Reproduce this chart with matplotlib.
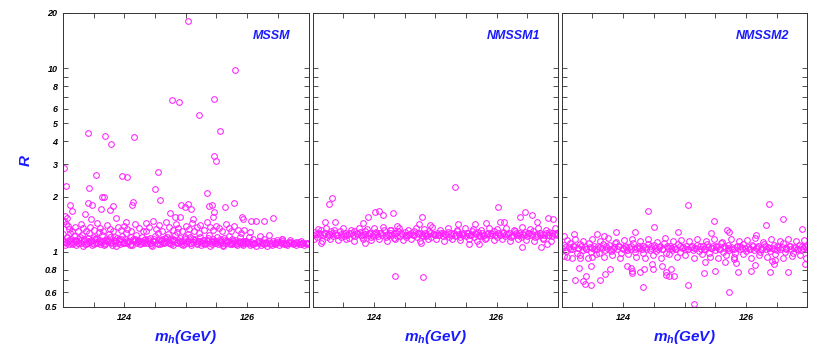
import matplotlib
matplotlib.use("Agg")
import matplotlib.pyplot as plt
from matplotlib.ticker import FixedLocator, FixedFormatter, NullLocator

plt.rcParams['font.family'] = ['Liberation Sans', 'DejaVu Sans']
plt.rcParams['mathtext.fontset'] = 'custom'
plt.rcParams['mathtext.it'] = 'Liberation Sans:bold:italic'
plt.rcParams['mathtext.rm'] = 'Liberation Sans:bold:italic'
plt.rcParams['mathtext.bf'] = 'Liberation Sans:bold:italic'

# ---------------- MSSM ----------------
mssm_band_m = [123.02,123.05,123.07,123.10,123.13,123.15,123.18,123.21,123.23,123.26,123.29,123.31,123.34,123.37,123.40,123.42,123.45,123.48,123.50,123.53,123.56,123.58,123.61,123.64,123.66,123.69,123.72,123.74,123.77,123.80,123.83,123.85,123.88,123.91,123.93,123.96,123.99,124.01,124.04,124.07,124.10,124.12,124.15,124.18,124.20,124.23,124.26,124.29,124.31,124.34,124.37,124.39,124.42,124.45,124.47,124.50,124.53,124.55,124.58,124.61,124.64,124.66,124.69,124.72,124.74,124.77,124.80,124.82,124.85,124.88,124.91,124.93,124.96,124.99,125.01,125.04,125.07,125.09,125.12,125.15,125.18,125.20,125.23,125.26,125.28,125.31,125.34,125.36,125.39,125.42,125.45,125.47,125.50,125.53,125.55,125.58,125.61,125.64,125.66,125.69,125.72,125.75,125.77,125.80,125.83,125.86,125.88,125.91,125.94,125.97,125.99,
               123.00,123.04,123.08,123.12,123.16,123.19,123.24,123.28,123.32,123.35,123.39,123.43,123.46,123.51,123.54,123.59,123.62,123.67,123.70,123.75,123.79,123.84,123.87,123.92,123.97,124.02,124.06,124.09,124.14,124.19,124.22,124.27,124.32,124.36,124.41,124.44,124.49,124.54,124.59,124.63,124.67,124.71,124.76,124.81,124.86,124.90,124.95,124.98,125.03,125.08,125.11,125.16,125.21,125.25,125.30,125.33,125.38,125.43,125.46,125.51,125.56,125.60,125.63,125.68,125.71,125.76,125.81,125.84,125.89,125.93,125.96,
               123.03,123.09,123.14,123.20,123.25,123.30,123.36,123.41,123.47,123.52,123.57,123.63,123.68,123.73,123.78,123.84,123.89,123.94,124.00,124.05,124.11,124.16,124.21,124.27,124.32,124.38,124.43,124.48,124.54,124.59,124.64,124.70,124.75,124.80,124.86,124.91,124.97,125.02,125.07,125.13,125.18,125.23,125.29,125.34,125.40,125.45,125.50,125.56,125.61,125.66,125.72,125.77,125.82,125.88,125.93,125.98,
               126.01,126.04,126.06,126.09,126.12,126.14,126.17,126.20,126.22,126.25,126.28,126.30,126.33,126.36,126.38,126.41,126.44,126.46,126.49,126.52,126.55,126.57,126.60,126.63,126.65,126.68,126.71,126.74,126.76,126.79,126.82,126.85,126.87,126.90,126.93,126.96,126.99,
               126.02,126.08,126.13,126.19,126.24,126.31,126.37,126.42,126.47,126.53,126.59,126.64,126.69,126.75,126.80,126.86,126.91,126.97,
               126.03,126.10,126.21,126.27,126.35,126.48,126.57,126.70,126.88]
mssm_band_r = [1.15,1.12,1.20,1.10,1.17,1.13,1.22,1.09,1.15,1.18,1.11,1.24,1.14,1.10,1.19,1.13,1.16,1.09,1.21,1.12,1.17,1.14,1.10,1.23,1.15,1.11,1.18,1.13,1.20,1.09,1.16,1.12,1.19,1.14,1.10,1.22,1.13,1.17,1.11,1.15,1.20,1.09,1.14,1.18,1.12,1.16,1.10,1.21,1.13,1.17,1.11,1.15,1.19,1.08,1.14,1.22,1.12,1.16,1.10,1.18,1.13,1.15,1.20,1.11,1.17,1.14,1.09,1.23,1.12,1.16,1.19,1.10,1.14,1.18,1.12,1.15,1.21,1.09,1.13,1.17,1.11,1.15,1.20,1.12,1.16,1.10,1.14,1.19,1.08,1.13,1.17,1.11,1.15,1.10,1.18,1.13,1.09,1.16,1.12,1.14,1.10,1.17,1.11,1.13,1.09,1.15,1.12,1.10,1.14,1.11,1.13,
               1.25,1.09,1.14,1.27,1.11,1.16,1.12,1.21,1.08,1.17,1.12,1.26,1.14,1.10,1.19,1.28,1.13,1.09,1.16,1.25,1.13,1.20,1.08,1.17,1.11,1.26,1.13,1.09,1.18,1.24,1.14,1.11,1.16,1.29,1.12,1.09,1.17,1.26,1.14,1.11,1.19,1.25,1.10,1.16,1.28,1.13,1.09,1.20,1.25,1.11,1.18,1.14,1.27,1.09,1.16,1.12,1.24,1.10,1.15,1.21,1.12,1.08,1.19,1.15,1.22,1.10,1.16,1.12,1.20,1.09,1.15,
               1.13,1.16,1.10,1.14,1.12,1.16,1.10,1.15,1.12,1.17,1.11,1.14,1.10,1.16,1.12,1.15,1.11,1.17,1.12,1.15,1.10,1.16,1.13,1.15,1.11,1.17,1.12,1.14,1.10,1.16,1.12,1.15,1.11,1.17,1.13,1.15,1.10,1.14,1.12,1.16,1.10,1.14,1.12,1.16,1.11,1.14,1.12,1.15,1.11,1.14,1.12,1.15,1.10,1.13,1.11,1.14,
               1.11,1.09,1.13,1.10,1.12,1.08,1.14,1.11,1.09,1.13,1.10,1.12,1.08,1.15,1.11,1.09,1.12,1.10,1.13,1.09,1.11,1.14,1.10,1.12,1.09,1.11,1.13,1.10,1.12,1.09,1.11,1.13,1.10,1.12,1.09,1.11,1.12,
               1.13,1.10,1.12,1.14,1.11,1.13,1.10,1.14,1.11,1.13,1.12,1.10,1.13,1.11,1.13,1.10,1.12,1.10,
               1.20,1.17,1.22,1.18,1.24,1.16,1.18,1.16,1.15]
mssm_mid_m = [123.02,123.05,123.08,123.06,123.10,123.15,123.20,123.25,123.30,123.33,123.38,123.44,123.50,123.55,123.60,123.65,123.71,123.76,123.82,123.90,123.95,124.00,124.05,124.11,124.17,124.24,124.30,124.35,124.40,124.46,124.52,124.57,124.62,124.68,124.73,124.79,124.84,124.88,124.94,125.00,125.05,125.10,125.14,125.19,125.24,125.29,125.35,125.40,125.44,125.49,125.54,125.59,125.65,125.70,125.74,125.79,125.85,125.90,125.95,126.05]
mssm_mid_r = [1.48,1.42,1.38,1.52,1.33,1.30,1.36,1.29,1.41,1.34,1.30,1.37,1.32,1.43,1.35,1.30,1.40,1.33,1.29,1.36,1.31,1.39,1.33,1.30,1.42,1.35,1.30,1.44,1.37,1.48,1.33,1.40,1.30,1.45,1.36,1.31,1.42,1.35,1.30,1.38,1.33,1.44,1.30,1.36,1.40,1.32,1.45,1.37,1.31,1.39,1.34,1.30,1.42,1.35,1.29,1.38,1.32,1.27,1.31,1.28]
mssm_out_m = [125.03,125.80,124.77,124.89,125.46,125.21,125.55,123.40,123.69,123.78,124.15,125.46,125.49,123.02,123.53,123.96,124.05,124.55,
              123.05,123.43,124.50,125.35,123.63,123.67,124.58,123.40,123.12,123.47,124.14,124.12,123.82,123.62,123.76,124.93,125.03,124.98,125.08,125.38,125.43,125.46,125.45,125.64,125.78,123.14,123.87,124.74,124.83,125.11,124.90,124.03,123.36,123.46,125.92,125.94,126.07,126.15,126.27,126.42,126.57,123.04]
mssm_out_r = [18.0,9.75,6.69,6.52,6.78,5.54,4.53,4.44,4.27,3.85,4.22,3.34,3.13,2.85,2.62,2.60,2.56,2.72,
              2.28,2.22,2.19,2.08,2.00,2.00,1.91,1.85,1.80,1.80,1.87,1.79,1.78,1.72,1.68,1.80,1.82,1.75,1.70,1.77,1.80,1.65,1.54,1.75,1.84,1.67,1.53,1.63,1.54,1.50,1.55,1.45,1.60,1.50,1.54,1.50,1.47,1.47,1.47,1.53,1.18,1.56]

# ---------------- NMSSM1 ----------------
n1_band_m = [123.01,123.04,123.07,123.11,123.14,123.17,123.20,123.24,123.27,123.30,123.34,123.37,123.40,123.44,123.47,123.50,123.53,123.57,123.60,123.63,123.67,123.70,123.73,123.77,123.80,123.83,123.86,123.90,123.93,123.96,124.00,124.03,124.06,124.10,124.13,124.16,124.20,124.23,124.26,124.30,124.33,124.36,124.40,124.43,124.46,124.50,124.53,124.56,124.60,124.63,124.66,124.70,124.73,124.76,124.80,124.83,124.86,124.90,124.93,124.96,125.00,125.03,125.06,125.10,125.13,125.16,125.20,125.23,125.26,125.30,125.33,125.36,125.40,125.43,125.46,125.50,125.53,125.56,125.60,125.63,125.66,125.70,125.73,125.76,125.80,125.83,125.86,125.90,125.93,125.96,126.00,126.03,126.06,126.10,126.13,126.16,126.20,126.23,126.26,126.30,126.33,126.36,126.40,126.43,126.46,126.50,126.53,126.56,126.60,126.63,126.66,126.70,126.73,126.76,126.80,126.83,126.86,126.90,126.93,126.96,126.99,
             123.02,123.09,123.16,123.22,123.29,123.35,123.42,123.49,123.55,123.62,123.68,123.75,123.82,123.88,123.95,124.01,124.08,124.15,124.21,124.28,124.35,124.41,124.48,124.55,124.61,124.68,124.75,124.81,124.88,124.95,125.01,125.08,125.15,125.21,125.28,125.35,125.41,125.48,125.55,125.61,125.68,125.75,125.81,125.88,125.95,126.01,126.08,126.15,126.21,126.28,126.35,126.41,126.48,126.55,126.61,126.68,126.75,126.81,126.88,126.95,
             123.05,123.12,123.19,123.26,123.32,123.39,123.46,123.52,123.59,123.66,123.72,123.79,123.85,123.92,123.99,124.05,124.12,124.19,124.25,124.32,124.38,124.45,124.52,124.58,124.65,124.72,124.78,124.85,124.92,124.98,125.05,125.12,125.18,125.25,125.32,125.38,125.45,125.52,125.58,125.65,125.71,125.78,125.85,125.91,125.98,126.05,126.11,126.18,126.25,126.31,126.38,126.45,126.51,126.58,126.65,126.71,126.78,126.85,126.91,126.98]
n1_band_r = [1.24,1.28,1.21,1.26,1.31,1.23,1.27,1.20,1.25,1.29,1.22,1.26,1.24,1.30,1.21,1.25,1.27,1.23,1.19,1.26,1.29,1.22,1.25,1.28,1.21,1.24,1.30,1.23,1.26,1.20,1.25,1.28,1.22,1.26,1.24,1.31,1.21,1.25,1.27,1.23,1.19,1.26,1.29,1.22,1.25,1.28,1.21,1.24,1.27,1.23,1.30,1.20,1.25,1.27,1.22,1.26,1.24,1.29,1.21,1.25,1.23,1.27,1.24,1.26,1.22,1.25,1.28,1.21,1.24,1.26,1.23,1.29,1.20,1.25,1.27,1.22,1.26,1.24,1.30,1.21,1.25,1.28,1.22,1.26,1.24,1.19,1.27,1.23,1.25,1.29,1.21,1.26,1.24,1.28,1.22,1.25,1.27,1.20,1.24,1.29,1.23,1.26,1.21,1.25,1.28,1.22,1.26,1.24,1.30,1.21,1.25,1.27,1.23,1.19,1.26,1.24,1.28,1.22,1.25,1.27,1.23,
             1.17,1.33,1.15,1.35,1.18,1.32,1.16,1.34,1.17,1.31,1.14,1.35,1.18,1.33,1.16,1.34,1.17,1.36,1.15,1.32,1.18,1.35,1.16,1.31,1.17,1.34,1.15,1.33,1.18,1.36,1.17,1.32,1.15,1.34,1.18,1.31,1.16,1.35,1.17,1.33,1.15,1.32,1.18,1.35,1.16,1.33,1.17,1.34,1.15,1.31,1.18,1.36,1.16,1.33,1.14,1.35,1.17,1.32,1.15,1.34,
             1.25,1.23,1.26,1.24,1.27,1.23,1.25,1.22,1.26,1.24,1.27,1.23,1.25,1.26,1.22,1.25,1.27,1.23,1.24,1.26,1.22,1.27,1.24,1.25,1.23,1.26,1.24,1.22,1.27,1.25,1.23,1.26,1.24,1.27,1.22,1.25,1.24,1.26,1.23,1.27,1.24,1.22,1.25,1.26,1.24,1.23,1.27,1.25,1.22,1.26,1.24,1.23,1.27,1.25,1.22,1.26,1.24,1.23,1.26,1.25]
n1_out_m = [125.32,123.32,123.27,126.03,124.09,124.02,124.31,124.15,123.91,124.78,126.47,126.38,126.57,126.84,126.92,126.65,124.35,124.80,126.41,126.72,126.82,125.55,125.71,123.86,124.76,123.14,124.26,123.21,123.36,123.83,124.38,124.74,124.92,125.37,125.82,126.05,126.12,125.65]
n1_out_r = [2.24,1.96,1.83,1.75,1.66,1.65,1.62,1.59,1.54,1.55,1.64,1.55,1.59,1.52,1.51,1.46,0.74,0.73,1.06,1.06,1.10,1.10,1.10,1.11,1.11,1.11,1.32,1.45,1.45,1.43,1.39,1.42,1.40,1.41,1.44,1.45,1.45,1.41]

# ---------------- NMSSM2 ----------------
n2_band_m = [123.01,123.04,123.07,123.11,123.14,123.17,123.20,123.24,123.27,123.30,123.34,123.37,123.40,123.44,123.47,123.50,123.53,123.57,123.60,123.63,123.67,123.70,123.73,123.77,123.80,123.83,123.86,123.90,123.93,123.96,124.00,124.03,124.06,124.10,124.13,124.16,124.20,124.23,124.26,124.30,124.33,124.36,124.40,124.43,124.46,124.50,124.53,124.56,124.60,124.63,124.66,124.70,124.73,124.76,124.80,124.83,124.86,124.90,124.93,124.96,125.00,125.03,125.06,125.10,125.13,125.16,125.20,125.23,125.26,125.30,125.33,125.36,125.40,125.43,125.46,125.50,125.53,125.56,125.60,125.63,125.66,125.70,125.73,125.76,125.80,125.83,125.86,125.90,125.93,125.96,126.00,126.03,126.06,126.10,126.13,126.16,126.20,126.23,126.26,126.30,126.33,126.36,126.40,126.43,126.46,126.50,126.53,126.56,126.60,126.63,126.66,126.70,126.73,126.76,126.80,126.83,126.86,126.90,126.93,126.96,126.99,
             123.03,123.09,123.16,123.22,123.29,123.35,123.42,123.49,123.55,123.62,123.68,123.75,123.82,123.88,123.95,124.01,124.08,124.15,124.21,124.28,124.35,124.41,124.48,124.55,124.61,124.68,124.75,124.81,124.88,124.95,125.01,125.08,125.15,125.21,125.28,125.35,125.41,125.48,125.55,125.61,125.68,125.75,125.81,125.88,125.95,126.01,126.08,126.15,126.21,126.28,126.35,126.41,126.48,126.55,126.61,126.68,126.75,126.81,126.88,126.95,
             123.06,123.13,123.19,123.26,123.32,123.39,123.46,123.52,123.59,123.66,123.72,123.79,123.85,123.92,123.99,124.05,124.12,124.19,124.25,124.32,124.38,124.45,124.52,124.58,124.65,124.72,124.78,124.85,124.92,124.98,125.05,125.12,125.18,125.25,125.32,125.38,125.45,125.52,125.58,125.65,125.71,125.78,125.85,125.91,125.98,126.05,126.11,126.18,126.25,126.31,126.38,126.45,126.51,126.58,126.65,126.71,126.78,126.85,126.91,126.98]
n2_band_r = [1.05,1.09,1.01,1.06,1.11,1.03,1.07,0.99,1.05,1.10,1.02,1.06,1.04,1.11,1.00,1.05,1.08,1.03,0.98,1.06,1.10,1.02,1.05,1.09,1.01,1.04,1.11,1.03,1.07,0.99,1.05,1.08,1.02,1.06,1.04,1.12,1.00,1.05,1.08,1.03,0.98,1.06,1.10,1.02,1.05,1.09,1.01,1.04,1.08,1.03,1.11,0.99,1.05,1.08,1.02,1.06,1.04,1.10,1.00,1.05,1.03,1.08,1.04,1.06,1.02,1.05,1.09,1.01,1.04,1.07,1.03,1.10,0.99,1.05,1.08,1.02,1.06,1.04,1.11,1.00,1.05,1.09,1.02,1.06,1.04,0.98,1.08,1.03,1.05,1.10,1.01,1.06,1.04,1.09,1.02,1.05,1.08,1.00,1.04,1.10,1.03,1.06,1.01,1.05,1.09,1.02,1.06,1.04,1.11,1.00,1.05,1.08,1.03,0.98,1.06,1.04,1.09,1.02,1.05,1.08,1.03,
             0.95,1.16,0.93,1.18,0.96,1.14,0.92,1.17,0.97,1.15,0.94,1.19,0.96,1.13,0.93,1.16,0.97,1.18,0.94,1.14,0.92,1.17,0.96,1.13,0.93,1.19,0.97,1.15,0.94,1.16,0.96,1.14,0.93,1.18,0.97,1.15,0.94,1.17,0.92,1.13,0.96,1.18,0.94,1.14,0.97,1.16,0.93,1.19,0.96,1.13,0.94,1.17,0.97,1.15,0.93,1.18,0.95,1.14,0.96,1.16,
             1.06,1.04,1.07,1.05,1.08,1.04,1.06,1.03,1.07,1.05,1.08,1.04,1.06,1.07,1.03,1.06,1.08,1.04,1.05,1.07,1.03,1.08,1.05,1.06,1.04,1.07,1.05,1.03,1.08,1.06,1.04,1.07,1.05,1.08,1.03,1.06,1.05,1.07,1.04,1.08,1.05,1.03,1.06,1.07,1.05,1.04,1.08,1.06,1.03,1.07,1.05,1.04,1.08,1.06,1.03,1.07,1.05,1.04,1.07,1.06]
n2_out_m = [125.05,126.37,124.40,125.48,126.60,124.51,126.32,124.19,124.90,125.43,125.69,125.72,126.92,123.88,123.57,123.20,123.69,123.04,126.16,
            123.28,123.47,123.78,123.22,123.39,123.35,123.38,123.47,123.63,123.70,124.33,125.05,125.15,125.73,124.15,124.14,124.28,124.34,124.49,124.63,124.70,124.74,124.78,124.69,124.82,125.32,125.49,125.87,126.08,126.15,126.39,126.68,125.84,125.81,126.47,126.96,126.98,123.09,123.50,123.29,124.13,124.06,125.34,125.66,126.45,126.42,124.47]
n2_out_r = [1.80,1.82,1.66,1.48,1.50,1.36,1.40,1.28,1.28,1.27,1.31,1.28,1.33,1.28,1.25,1.25,1.22,1.22,1.23,
            0.82,0.84,0.81,0.70,0.74,0.69,0.67,0.66,0.70,0.76,0.64,0.66,0.52,0.60,0.77,0.79,0.78,0.81,0.81,0.84,0.78,0.74,0.81,0.75,0.74,0.77,0.79,0.78,0.79,0.85,0.78,0.78,0.87,0.91,0.90,0.86,0.92,0.94,0.94,0.93,0.82,0.84,0.88,0.88,0.86,0.89,0.86]

panel_titles = ["MSSM", "NMSSM1", "NMSSM2"]
y_ticks = [0.5, 0.6, 0.7, 0.8, 1, 2, 3, 4, 5, 6, 7, 8, 9, 10, 20]
y_labels = ["0.5", "0.6", "", "0.8", "1", "2", "3", "4", "5", "6", "", "8", "", "10", "20"]
x_ticks = [123.5, 124, 124.5, 125, 125.5, 126, 126.5]
x_labels = ["", "124", "", "", "", "126", ""]

panels = [
    (mssm_band_m + mssm_mid_m + mssm_out_m, mssm_band_r + mssm_mid_r + mssm_out_r),
    (n1_band_m + n1_out_m, n1_band_r + n1_out_r),
    (n2_band_m + n2_out_m, n2_band_r + n2_out_r),
]

W, H = 817, 353
fig = plt.figure(figsize=(W / 100, H / 100), dpi=100)
lefts = [63, 312.5, 561.8]
width = 245.5
bottom_px, top_px = 307, 13
blue = "#1a1aff"

for i, (ms, rs) in enumerate(panels):
    ax = fig.add_axes([lefts[i] / W, (H - bottom_px) / H, width / W, (bottom_px - top_px) / H])
    ax.plot(ms, rs, linestyle="none", marker="o", markersize=4.1, markerfacecolor="none",
            markeredgecolor="#ff22ff", markeredgewidth=0.75)
    ax.set_yscale("log")
    ax.set_xlim(123, 127)
    ax.set_ylim(0.5, 20)
    ax.yaxis.set_major_locator(FixedLocator(y_ticks))
    ax.yaxis.set_minor_locator(NullLocator())
    ax.xaxis.set_major_locator(FixedLocator(x_ticks))
    ax.xaxis.set_minor_locator(NullLocator())
    ax.xaxis.set_major_formatter(FixedFormatter(x_labels))
    if i == 0:
        ax.yaxis.set_major_formatter(FixedFormatter(y_labels))
        ax.set_ylabel("R", color=blue, fontsize=11, fontweight="bold", fontstyle="italic", labelpad=9)
    else:
        ax.yaxis.set_major_formatter(FixedFormatter([""] * len(y_ticks)))
    ax.tick_params(axis="both", which="major", direction="in", length=3.5, width=0.6,
                   top=True, right=True, colors="#333333", labelcolor="black", pad=4)
    for lab in ax.get_xticklabels() + ax.get_yticklabels():
        lab.set_fontsize(6.5)
        lab.set_fontweight("bold")
        lab.set_fontstyle("italic")
    for sp in ax.spines.values():
        sp.set_linewidth(0.7)
        sp.set_color("#333333")
    ax.set_xlabel("$m_h$(GeV)", color=blue, fontsize=11, fontweight="bold",
                  fontstyle="italic", labelpad=5)
    ax.text(0.927, 0.922, panel_titles[i], transform=ax.transAxes, ha="right", va="center",
            color=blue, fontsize=9, fontweight="bold", fontstyle="italic")

fig.savefig("out.png", dpi=100)
